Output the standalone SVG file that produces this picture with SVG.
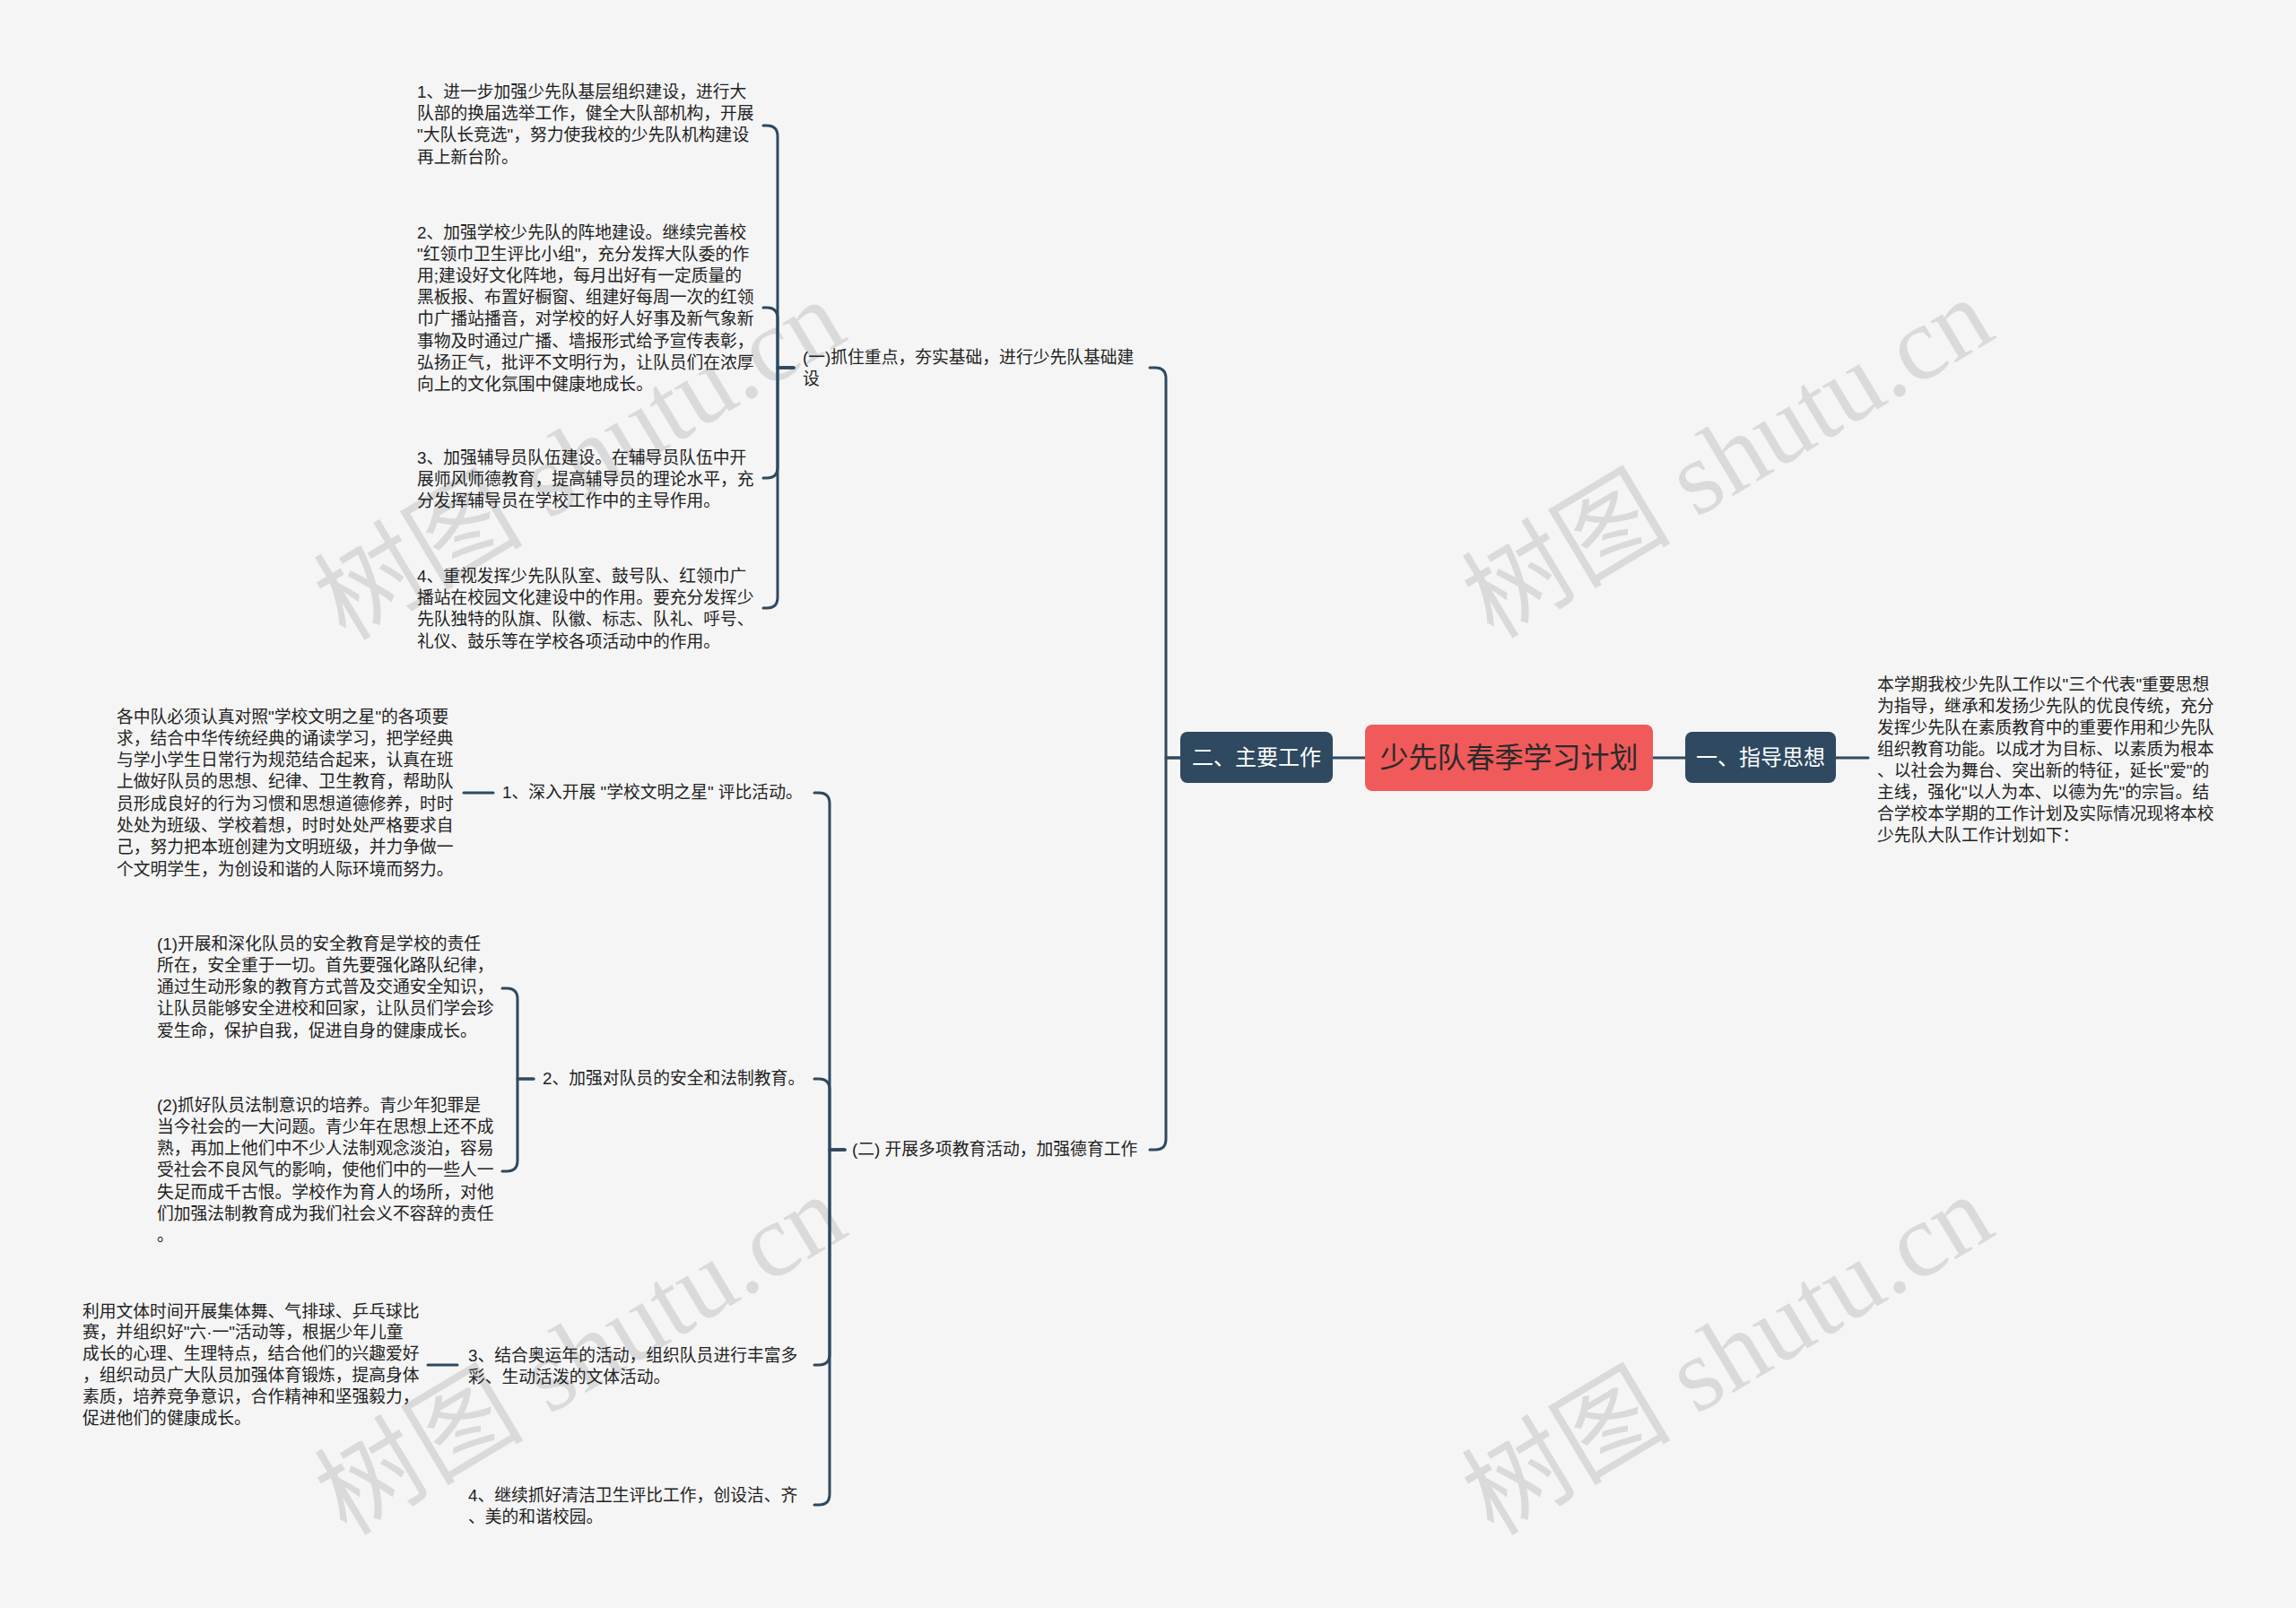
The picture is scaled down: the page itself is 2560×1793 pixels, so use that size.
<svg xmlns="http://www.w3.org/2000/svg" width="2560" height="1793" viewBox="0 0 2560 1793">
<style>
.bg{fill:#F5F5F5}
.t{font-family:"Liberation Sans","Noto Sans CJK SC",sans-serif;font-size:18.8px;fill:#222}
.nl{font-family:"Liberation Sans","Noto Sans CJK SC",sans-serif;font-size:24px;fill:#fff;text-anchor:middle}
.ct{font-family:"Liberation Sans","Noto Sans CJK SC",sans-serif;font-size:32px;fill:#2a2a2a;text-anchor:middle}
.sub{fill:#2E4960}
.root{fill:#F05A5A}
.c{fill:none;stroke:#2E4960;stroke-width:3;stroke-linecap:round;stroke-linejoin:round}
.wm{font-family:"Liberation Serif","Noto Sans CJK SC",serif;font-size:117px;fill:#000;fill-opacity:0.11;text-anchor:middle}
</style>
<rect class="bg" x="0" y="0" width="2560" height="1793"/>

<g id="watermarks">
<text class="wm" transform="translate(647,514) rotate(-31)" y="38">树图 shutu.cn</text>
<text class="wm" transform="translate(1927,512) rotate(-31)" y="38">树图 shutu.cn</text>
<text class="wm" transform="translate(648,1512) rotate(-31)" y="38">树图 shutu.cn</text>
<text class="wm" transform="translate(1927,1512) rotate(-31)" y="38">树图 shutu.cn</text>
</g>

<g id="connectors">
<path class="c" d="M1843,845 H1879"/>
<path class="c" d="M2047,845 H2083"/>
<path class="c" d="M1522,845 H1486"/>
<path class="c" d="M1316,845 H1300 V422 Q1300,410 1288,410 H1282"/>
<path class="c" d="M1316,845 H1300 V1270 Q1300,1282 1288,1282 H1282"/>
<path class="c" d="M885,410 H867 V152 Q867,140 855,140 H851"/>
<path class="c" d="M885,410 H867 V355 Q867,343 855,343 H851"/>
<path class="c" d="M885,410 H867 V521 Q867,533 855,533 H851"/>
<path class="c" d="M885,410 H867 V666 Q867,678 855,678 H851"/>
<path class="c" d="M942,1282 H925 V896 Q925,884 913,884 H908"/>
<path class="c" d="M942,1282 H925 V1215 Q925,1203 913,1203 H908"/>
<path class="c" d="M942,1282 H925 V1510 Q925,1522 913,1522 H908"/>
<path class="c" d="M942,1282 H925 V1666 Q925,1678 913,1678 H908"/>
<path class="c" d="M550,884 H517"/>
<path class="c" d="M595,1203 H577 V1114 Q577,1102 565,1102 H560"/>
<path class="c" d="M595,1203 H577 V1294 Q577,1306 565,1306 H560"/>
<path class="c" d="M510,1522 H477"/>
</g>

<g id="root">
<rect class="root" x="1522" y="808" width="321" height="74" rx="8"/>
<text class="ct" x="1682.5" y="856">少先队春季学习计划</text>
</g>

<g id="n-guide">
<rect class="sub" x="1879" y="816" width="168" height="57" rx="8"/>
<text class="nl" x="1963" y="853">一、指导思想</text>
</g>

<g id="n-guide-text">
<text class="t" x="2093" y="769.5">
<tspan x="2093">本学期我校少先队工作以"三个代表"重要思想</tspan>
<tspan x="2093" dy="24">为指导，继承和发扬少先队的优良传统，充分</tspan>
<tspan x="2093" dy="24">发挥少先队在素质教育中的重要作用和少先队</tspan>
<tspan x="2093" dy="24">组织教育功能。以成才为目标、以素质为根本</tspan>
<tspan x="2093" dy="24">、以社会为舞台、突出新的特征，延长"爱"的</tspan>
<tspan x="2093" dy="24">主线，强化"以人为本、以德为先"的宗旨。结</tspan>
<tspan x="2093" dy="24">合学校本学期的工作计划及实际情况现将本校</tspan>
<tspan x="2093" dy="24">少先队大队工作计划如下：</tspan>
</text>
</g>

<g id="n-main">
<rect class="sub" x="1316" y="816" width="170" height="57" rx="8"/>
<text class="nl" x="1401" y="853">二、主要工作</text>
</g>

<g id="n-part1">
<text class="t" x="895" y="404.5">
<tspan x="895">(一)抓住重点，夯实基础，进行少先队基础建</tspan>
<tspan x="895" dy="24.4">设</tspan>
</text>
</g>

<g id="n-p1-1">
<text class="t" x="465" y="108.5">
<tspan x="465">1、进一步加强少先队基层组织建设，进行大</tspan>
<tspan x="465" dy="24.4">队部的换届选举工作，健全大队部机构，开展</tspan>
<tspan x="465" dy="24.4">"大队长竞选"，努力使我校的少先队机构建设</tspan>
<tspan x="465" dy="24.4">再上新台阶。</tspan>
</text>
</g>

<g id="n-p1-2">
<text class="t" x="465" y="265.5">
<tspan x="465">2、加强学校少先队的阵地建设。继续完善校</tspan>
<tspan x="465" dy="24.2">"红领巾卫生评比小组"，充分发挥大队委的作</tspan>
<tspan x="465" dy="24.2">用;建设好文化阵地，每月出好有一定质量的</tspan>
<tspan x="465" dy="24.2">黑板报、布置好橱窗、组建好每周一次的红领</tspan>
<tspan x="465" dy="24.2">巾广播站播音，对学校的好人好事及新气象新</tspan>
<tspan x="465" dy="24.2">事物及时通过广播、墙报形式给予宣传表彰，</tspan>
<tspan x="465" dy="24.2">弘扬正气，批评不文明行为，让队员们在浓厚</tspan>
<tspan x="465" dy="24.2">向上的文化氛围中健康地成长。</tspan>
</text>
</g>

<g id="n-p1-3">
<text class="t" x="465" y="516.5">
<tspan x="465">3、加强辅导员队伍建设。在辅导员队伍中开</tspan>
<tspan x="465" dy="24.4">展师风师德教育，提高辅导员的理论水平，充</tspan>
<tspan x="465" dy="24.4">分发挥辅导员在学校工作中的主导作用。</tspan>
</text>
</g>

<g id="n-p1-4">
<text class="t" x="465" y="648.5">
<tspan x="465">4、重视发挥少先队队室、鼓号队、红领巾广</tspan>
<tspan x="465" dy="24.4">播站在校园文化建设中的作用。要充分发挥少</tspan>
<tspan x="465" dy="24.4">先队独特的队旗、队徽、标志、队礼、呼号、</tspan>
<tspan x="465" dy="24.4">礼仪、鼓乐等在学校各项活动中的作用。</tspan>
</text>
</g>

<g id="n-part2">
<text class="t" x="950" y="1287.5">(二) 开展多项教育活动，加强德育工作</text>
</g>

<g id="n-p2-1">
<text class="t" x="560" y="890">1、深入开展 "学校文明之星" 评比活动。</text>
</g>

<g id="n-p2-1-a">
<text class="t" x="130" y="805.5">
<tspan x="130">各中队必须认真对照"学校文明之星"的各项要</tspan>
<tspan x="130" dy="24.3">求，结合中华传统经典的诵读学习，把学经典</tspan>
<tspan x="130" dy="24.3">与学小学生日常行为规范结合起来，认真在班</tspan>
<tspan x="130" dy="24.3">上做好队员的思想、纪律、卫生教育，帮助队</tspan>
<tspan x="130" dy="24.3">员形成良好的行为习惯和思想道德修养，时时</tspan>
<tspan x="130" dy="24.3">处处为班级、学校着想，时时处处严格要求自</tspan>
<tspan x="130" dy="24.3">己，努力把本班创建为文明班级，并力争做一</tspan>
<tspan x="130" dy="24.3">个文明学生，为创设和谐的人际环境而努力。</tspan>
</text>
</g>

<g id="n-p2-2">
<text class="t" x="605" y="1208.5">2、加强对队员的安全和法制教育。</text>
</g>

<g id="n-p2-2-a">
<text class="t" x="175" y="1058.5">
<tspan x="175">(1)开展和深化队员的安全教育是学校的责任</tspan>
<tspan x="175" dy="24.3">所在，安全重于一切。首先要强化路队纪律，</tspan>
<tspan x="175" dy="24.3">通过生动形象的教育方式普及交通安全知识，</tspan>
<tspan x="175" dy="24.3">让队员能够安全进校和回家，让队员们学会珍</tspan>
<tspan x="175" dy="24.3">爱生命，保护自我，促进自身的健康成长。</tspan>
</text>
</g>

<g id="n-p2-2-b">
<text class="t" x="175" y="1238.5">
<tspan x="175">(2)抓好队员法制意识的培养。青少年犯罪是</tspan>
<tspan x="175" dy="24.3">当今社会的一大问题。青少年在思想上还不成</tspan>
<tspan x="175" dy="24.3">熟，再加上他们中不少人法制观念淡泊，容易</tspan>
<tspan x="175" dy="24.3">受社会不良风气的影响，使他们中的一些人一</tspan>
<tspan x="175" dy="24.3">失足而成千古恨。学校作为育人的场所，对他</tspan>
<tspan x="175" dy="24.3">们加强法制教育成为我们社会义不容辞的责任</tspan>
<tspan x="175" dy="24.3">。</tspan>
</text>
</g>

<g id="n-p2-3">
<text class="t" x="522" y="1517.5">
<tspan x="522">3、结合奥运年的活动，组织队员进行丰富多</tspan>
<tspan x="522" dy="24.4">彩、生动活泼的文体活动。</tspan>
</text>
</g>

<g id="n-p2-3-a">
<text class="t" x="92" y="1468.5">
<tspan x="92">利用文体时间开展集体舞、气排球、乒乓球比</tspan>
<tspan x="92" dy="23.8">赛，并组织好"六·一"活动等，根据少年儿童</tspan>
<tspan x="92" dy="23.8">成长的心理、生理特点，结合他们的兴趣爱好</tspan>
<tspan x="92" dy="23.8">，组织动员广大队员加强体育锻炼，提高身体</tspan>
<tspan x="92" dy="23.8">素质，培养竞争意识，合作精神和坚强毅力，</tspan>
<tspan x="92" dy="23.8">促进他们的健康成长。</tspan>
</text>
</g>

<g id="n-p2-4">
<text class="t" x="522" y="1673.5">
<tspan x="522">4、继续抓好清洁卫生评比工作，创设洁、齐</tspan>
<tspan x="522" dy="24.4">、美的和谐校园。</tspan>
</text>
</g>
</svg>
